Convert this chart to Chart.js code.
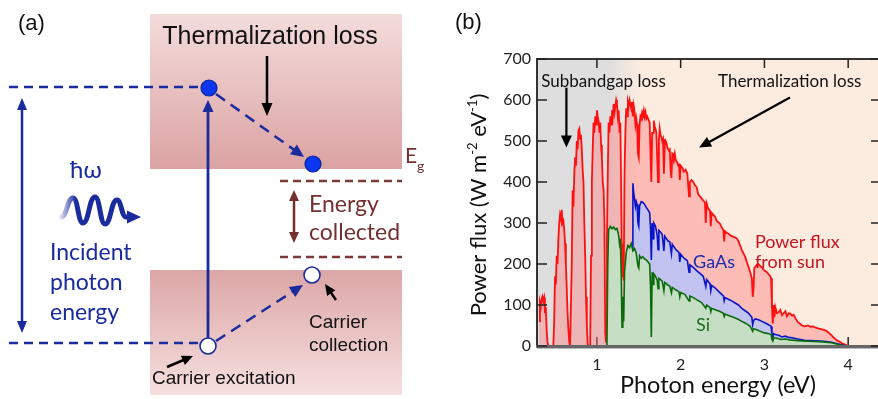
<!DOCTYPE html>
<html><head><meta charset="utf-8">
<script src="https://cdn.jsdelivr.net/npm/chart.js@4.4.0/dist/chart.umd.min.js"></script>
<style>
html,body{margin:0;padding:0;background:#fff;overflow:hidden;width:878px;height:399px;}
#a{position:absolute;left:0;top:0;}
#b{position:absolute;left:440px;top:0;}
</style></head><body>
<canvas id="a" width="440" height="399"></canvas>
<canvas id="b" width="442" height="399"></canvas>
<script>
// ---------------- Panel (b) data: power flux (W m^-2 eV^-1) vs photon energy (eV) ----------------
const energy = [
 0.31,0.32,0.33,0.34,0.35,0.36,0.37,0.38,0.39,0.40,
 0.41,0.42,0.45,0.48,0.49,0.50,0.51,0.52,0.53,0.54,
 0.55,0.56,0.57,0.58,0.59,0.60,0.61,0.62,0.63,0.64,
 0.65,0.66,0.67,0.68,0.69,0.70,0.71,0.72,0.73,0.74,
 0.75,0.76,0.77,0.78,0.79,0.80,0.81,0.82,0.83,0.84,
 0.85,0.86,0.87,0.88,0.89,0.90,0.92,0.93,0.94,0.95,
 0.96,0.97,0.98,0.99,1.00,1.01,1.02,1.03,1.04,1.05,
 1.06,1.07,1.08,1.09,1.10,1.11,1.12,1.13,1.14,1.15,
 1.16,1.17,1.18,1.19,1.20,1.21,1.22,1.23,1.24,1.25,
 1.26,1.27,1.28,1.29,1.30,1.31,1.32,1.33,1.34,1.35,
 1.36,1.37,1.38,1.39,1.40,1.41,1.42,1.43,1.44,1.45,
 1.46,1.47,1.48,1.49,1.50,1.51,1.52,1.53,1.54,1.55,
 1.56,1.57,1.58,1.59,1.60,1.61,1.62,1.63,1.64,1.65,
 1.66,1.67,1.68,1.69,1.70,1.71,1.72,1.73,1.74,1.75,
 1.76,1.77,1.78,1.79,1.80,1.81,1.82,1.83,1.84,1.85,
 1.86,1.87,1.88,1.89,1.90,1.91,1.92,1.93,1.94,1.95,
 1.96,1.97,1.98,1.99,2.00,2.02,2.04,2.06,2.08,2.10,
 2.11,2.13,2.15,2.17,2.19,2.21,2.23,2.25,2.27,2.29,
 2.30,2.31,2.33,2.35,2.36,2.37,2.39,2.41,2.43,2.45,
 2.47,2.49,2.51,2.52,2.53,2.55,2.57,2.59,2.61,2.63,
 2.65,2.67,2.69,2.71,2.73,2.75,2.77,2.79,2.81,2.83,
 2.85,2.86,2.87,2.88,2.89,2.91,2.93,2.95,2.97,2.99,
 3.01,3.03,3.05,3.07,3.08,3.09,3.10,3.11,3.12,3.13,
 3.15,3.17,3.19,3.21,3.23,3.25,3.27,3.29,3.31,3.33,
 3.35,3.37,3.40,3.42,3.45,3.48,3.52,3.55,3.58,3.62,
 3.66,3.70,3.74,3.78,3.81,3.84,3.87,3.90,3.93,3.96,
 3.99,4.02,4.38
];
const sunFlux = [
 60,105,95,115,121,110,118,80,95,40,
 10,0,0,0,60,170,150,220,200,260,
 300,320,310,332,300,305,285,250,200,140,
 80,40,10,0,0,200,380,340,420,460,
 440,500,480,525,530,505,515,480,430,400,
 300,220,120,50,5,0,0,220,400,480,
 545,520,560,540,575,560,550,520,545,490,
 460,400,380,300,30,10,250,420,545,520,
 560,540,575,560,590,570,585,600,590,560,
 575,520,545,380,170,250,160,420,520,580,
 560,595,585,600,590,580,595,560,585,570,
 540,555,540,470,460,540,560,555,570,565,
 575,560,570,555,560,560,550,545,470,400,
 520,520,550,535,530,520,460,400,500,530,
 515,510,500,505,420,490,500,495,485,480,
 478,480,430,410,470,468,460,470,455,450,
 448,440,445,405,440,435,425,430,420,365,
 400,405,400,392,388,370,365,360,355,350,
 300,348,335,330,292,325,320,316,305,302,
 298,290,283,255,280,276,274,270,268,266,
 265,262,256,245,234,226,218,205,193,180,
 165,120,140,190,193,198,200,195,192,186,
 183,180,175,170,165,95,55,100,70,95,
 80,82,88,75,80,85,72,80,79,74,
 76,68,58,55,50,48,50,47,48,44,
 42,40,37,30,24,18,13,10,6,4,
 1,0,0
];
const gaasEnergy = [
 1.42,1.43,1.44,1.45,1.46,1.47,1.48,1.49,1.50,1.51,
 1.53,1.55,1.57,1.59,1.61,1.63,1.64,1.65,1.66,1.67,
 1.68,1.70,1.72,1.73,1.74,1.76,1.78,1.80,1.81,1.83,
 1.85,1.87,1.89,1.90,1.92,1.94,1.96,1.98,1.99,2.00,
 2.04,2.08,2.10,2.11,2.15,2.19,2.23,2.27,2.30,2.31,
 2.35,2.36,2.37,2.41,2.45,2.49,2.51,2.52,2.53,2.57,
 2.61,2.65,2.69,2.73,2.77,2.81,2.85,2.86,2.87,2.89,
 2.93,2.97,3.01,3.05,3.08,3.09,3.10,3.11,3.13,3.17,
 3.21,3.25,3.29,3.33,3.40,3.48,3.56,3.66,3.74,3.80,
 3.86,3.92,3.96,4.00
];
const gaasFlux = [
 0,397,372,358,340,352,345,300,292,342,
 352,350,345,338,332,325,290,210,300,262,
 300,292,270,235,282,278,272,232,268,262,
 256,254,225,248,242,236,232,228,205,224,
 214,208,180,198,192,184,177,170,145,162,
 152,135,148,142,134,126,122,110,118,114,
 110,105,100,92,86,80,70,52,62,66,
 64,60,56,52,48,30,18,30,28,26,
 22,24,21,20,17,14,13,12,11,9,
 6,3,1,0
];
const siEnergy = [
 1.12,1.13,1.14,1.16,1.18,1.20,1.22,1.24,1.26,1.27,
 1.28,1.29,1.30,1.31,1.32,1.33,1.35,1.37,1.39,1.41,
 1.43,1.45,1.47,1.49,1.50,1.51,1.53,1.55,1.57,1.59,
 1.61,1.63,1.64,1.65,1.66,1.67,1.68,1.70,1.72,1.73,
 1.74,1.76,1.78,1.80,1.81,1.83,1.85,1.87,1.89,1.90,
 1.92,1.94,1.96,1.98,1.99,2.00,2.05,2.10,2.11,2.15,
 2.20,2.25,2.30,2.31,2.35,2.36,2.37,2.42,2.47,2.51,
 2.52,2.53,2.58,2.63,2.68,2.73,2.78,2.83,2.86,2.87,
 2.90,2.95,3.00,3.05,3.08,3.09,3.10,3.11,3.15,3.20,
 3.25,3.30,3.40,3.50,3.60,3.70,3.80,3.86,3.92,3.96
];
const siFlux = [
 0,200,283,292,286,290,284,287,270,250,
 262,180,46,120,60,180,228,245,240,250,
 232,238,226,195,190,220,214,218,212,210,
 205,200,150,22,180,150,176,170,160,140,
 165,162,158,135,155,152,148,146,130,143,
 140,137,135,132,120,130,126,110,122,118,
 112,106,92,100,94,84,92,88,84,80,
 72,78,74,70,66,60,55,48,36,42,
 40,36,32,30,28,16,12,20,19,16,
 17,15,13,12,11,10,8,5,2,0
];
const yTickValues = [0,100,200,300,400,500,600,700];
const xTickValues = [1,2,3,4];

// ---------------- Panel (a) diagram data (x: position units, y: energy units) ----------------
const electronPos = [{x:20.9,y:3.11},{x:31.3,y:2.35}];
const holePos = [{x:20.8,y:0.53},{x:31.2,y:1.24}];
const photonLevelY = [3.12, 0.56];
const photonLevelX = [0.9, 20.0];
const collectedLevelY = [2.18, 1.42];
const collectedLevelX = [28.0, 40.2];

const SANS = '"Liberation Sans", Arial, sans-serif';
const HUM = 'Lato, "Open Sans", sans-serif';

function arrowHead(ctx, x1, y1, x2, y2, len, half, color){
  const a = Math.atan2(y2-y1, x2-x1);
  ctx.save(); ctx.fillStyle = color; ctx.setLineDash([]);
  ctx.beginPath();
  ctx.moveTo(x2, y2);
  ctx.lineTo(x2 - len*Math.cos(a) + half*Math.sin(a), y2 - len*Math.sin(a) - half*Math.cos(a));
  ctx.lineTo(x2 - len*Math.cos(a) - half*Math.sin(a), y2 - len*Math.sin(a) + half*Math.cos(a));
  ctx.closePath(); ctx.fill(); ctx.restore();
}
function arrow(ctx, x1, y1, x2, y2, o){
  const len = o.len || 11, half = o.half || 5;
  const a = Math.atan2(y2-y1, x2-x1);
  let sx = x1, sy = y1;
  if (o.both){ sx = x1 + (len-2)*Math.cos(a); sy = y1 + (len-2)*Math.sin(a); }
  const ex = x2 - (len-2)*Math.cos(a), ey = y2 - (len-2)*Math.sin(a);
  ctx.save();
  ctx.strokeStyle = o.color; ctx.lineWidth = o.width || 2;
  ctx.setLineDash(o.dash || []);
  ctx.beginPath(); ctx.moveTo(sx, sy); ctx.lineTo(ex, ey); ctx.stroke();
  ctx.restore();
  arrowHead(ctx, x1, y1, x2, y2, len, half, o.color);
  if (o.both) arrowHead(ctx, x2, y2, x1, y1, len, half, o.color);
}
function text(ctx, s, x, y, font, color, align, base){
  ctx.save(); ctx.font = font; ctx.fillStyle = color;
  ctx.textAlign = align || 'left'; ctx.textBaseline = base || 'middle';
  ctx.fillText(s, x, y); ctx.restore();
}

// ---------------- Panel (a) ----------------
const diagramPlugin = {
  id: 'diagram',
  beforeDatasetsDraw(chart){
    const ctx = chart.ctx, X = v => chart.scales.x.getPixelForValue(v), Y = v => chart.scales.y.getPixelForValue(v);
    const bands = [
      {x0:15.0, x1:40.2, yTop:3.85, yBot:2.30, cTop:'#f4dcdc', cBot:'#dba2a2'},
      {x0:15.0, x1:40.2, yTop:1.29, yBot:0.04, cTop:'#dca6a6', cBot:'#f6dfdf'}
    ];
    bands.forEach(b => {
      const g = ctx.createLinearGradient(0, Y(b.yTop), 0, Y(b.yBot));
      g.addColorStop(0, b.cTop); g.addColorStop(1, b.cBot);
      ctx.fillStyle = g;
      ctx.fillRect(X(b.x0), Y(b.yTop), X(b.x1)-X(b.x0), Y(b.yBot)-Y(b.yTop));
    });
    const blue = '#1a2b9e', brown = '#74302f';
    arrow(ctx, X(2.2), Y(3.01), X(2.2), Y(0.66), {color:blue, width:2.5, both:true, len:12, half:5});
    arrow(ctx, X(20.8), Y(0.61), X(20.8), Y(2.99), {color:blue, width:2.8, len:12, half:5.5});
    arrow(ctx, X(21.6), Y(3.05), X(30.4), Y(2.42), {color:blue, width:2.5, dash:[11,7], len:13, half:6});
    arrow(ctx, X(21.6), Y(0.58), X(30.3), Y(1.14), {color:blue, width:2.5, dash:[11,7], len:13, half:6});
    arrow(ctx, X(29.4), Y(2.09), X(29.4), Y(1.56), {color:brown, width:2.5, both:true, len:11, half:5});
    arrow(ctx, X(26.7), Y(3.43), X(26.7), Y(2.83), {color:'#000', width:2.5, len:13, half:5.5});
    arrow(ctx, X(33.6), Y(0.99), X(32.5), Y(1.15), {color:'#000', width:2.5, len:11, half:5});
    arrow(ctx, X(16.7), Y(0.32), X(19.3), Y(0.43), {color:'#000', width:2.5, len:11, half:5});
    // photon wave
    const wave = [[6.1,1.82],[7.3,2.01],[8.3,1.76],[9.5,2.02],[10.5,1.75],[11.7,1.99],[12.6,1.82]];
    const g = ctx.createLinearGradient(X(5.8),0,X(7.6),0);
    g.addColorStop(0,'rgba(26,43,158,0)'); g.addColorStop(1,'rgba(26,43,158,1)');
    ctx.save(); ctx.strokeStyle = g; ctx.lineWidth = 5; ctx.lineCap='round';
    ctx.beginPath(); ctx.moveTo(X(wave[0][0]), Y(wave[0][1]));
    for (let i=1;i<wave.length;i++){
      const x0=X(wave[i-1][0]), y0=Y(wave[i-1][1]), x1=X(wave[i][0]), y1=Y(wave[i][1]), dx=x1-x0;
      ctx.bezierCurveTo(x0+dx*0.5, y0, x1-dx*0.5, y1, x1, y1);
    }
    ctx.lineTo(X(13.0), Y(1.82));
    ctx.stroke(); ctx.restore();
    arrowHead(ctx, X(12.6), Y(1.82), X(14.1), Y(1.82), 14, 6.5, blue);
    // texts
    text(ctx, '(a)', X(1.8), Y(3.75), '22px '+SANS, '#111');
    text(ctx, 'Thermalization loss', X(27.0), Y(3.62), '25px '+SANS, '#111', 'center');
    text(ctx, 'E', X(40.5), Y(2.43), '21px '+HUM, brown);
    text(ctx, 'g', X(41.7), Y(2.33), '14px '+HUM, brown);
    text(ctx, 'Energy', X(30.9), Y(1.94), '23px '+HUM, brown);
    text(ctx, 'collected', X(30.9), Y(1.66), '23px '+HUM, brown);
    text(ctx, 'ħω', X(7.0), Y(2.29), '24px '+HUM, blue);
    text(ctx, 'Incident', X(5.0), Y(1.46), '23px '+HUM, blue);
    text(ctx, 'photon', X(5.0), Y(1.16), '23px '+HUM, blue);
    text(ctx, 'energy', X(5.0), Y(0.86), '23px '+HUM, blue);
    text(ctx, 'Carrier', X(30.9), Y(0.76), '19px '+SANS, '#111');
    text(ctx, 'collection', X(30.9), Y(0.53), '19px '+SANS, '#111');
    text(ctx, 'Carrier excitation', X(15.2), Y(0.20), '19px '+SANS, '#111');
  }
};

new Chart(document.getElementById('a'), {
  type: 'scatter',
  data: { datasets: [
    { data: electronPos, pointRadius: 8, backgroundColor: '#0a36f0', borderColor: '#0c2590', borderWidth: 1.2 },
    { data: holePos, pointRadius: 8, backgroundColor: '#ffffff', borderColor: '#1a2b9e', borderWidth: 1.6 },
    { data: photonLevelX.map(x => ({x, y: photonLevelY[0]})), showLine: true, pointRadius: 0, borderColor: '#1a2b9e', borderWidth: 2.5, borderDash: [9,6] },
    { data: photonLevelX.map(x => ({x, y: photonLevelY[1]})), showLine: true, pointRadius: 0, borderColor: '#1a2b9e', borderWidth: 2.5, borderDash: [9,6] },
    { data: collectedLevelX.map(x => ({x, y: collectedLevelY[0]})), showLine: true, pointRadius: 0, borderColor: '#7a3a38', borderWidth: 2.5, borderDash: [8,5] },
    { data: collectedLevelX.map(x => ({x, y: collectedLevelY[1]})), showLine: true, pointRadius: 0, borderColor: '#7a3a38', borderWidth: 2.5, borderDash: [8,5] }
  ]},
  options: {
    responsive: false, animation: false, layout: { padding: 0, autoPadding: false },
    plugins: { legend: { display: false }, tooltip: { enabled: false } },
    scales: {
      x: { type: 'linear', min: 0, max: 44, display: false },
      y: { type: 'linear', min: 0, max: 3.99, display: false }
    }
  },
  plugins: [diagramPlugin]
});

// ---------------- Panel (b) ----------------
const bgPlugin = {
  id: 'bgb',
  beforeDatasetsDraw(chart){
    const {ctx, chartArea: a, scales: {x, y}} = chart;
    const f = v => (x.getPixelForValue(v) - a.left) / (a.right - a.left);
    const g = ctx.createLinearGradient(a.left, 0, a.right, 0);
    g.addColorStop(0, '#dedede'); g.addColorStop(f(1.15), '#dedede');
    g.addColorStop(f(1.5), '#fcebdf'); g.addColorStop(1, '#fcebdf');
    ctx.save(); ctx.fillStyle = g; ctx.fillRect(a.left, a.top, a.right - a.left, a.bottom - a.top);
    ctx.strokeStyle = '#222'; ctx.lineWidth = 1.5;
    xTickValues.forEach(v => { const px = x.getPixelForValue(v); ctx.beginPath(); ctx.moveTo(px, a.bottom); ctx.lineTo(px, a.bottom - 9); ctx.stroke(); });
    ctx.restore();
  },
  afterDatasetsDraw(chart){
    const {ctx, chartArea: a, scales: {x, y}} = chart;
    ctx.save();
    ctx.strokeStyle = '#333'; ctx.lineWidth = 2;
    ctx.beginPath(); ctx.moveTo(a.left, a.bottom); ctx.lineTo(a.left, a.top); ctx.lineTo(a.right, a.top); ctx.lineTo(a.right, a.bottom); ctx.stroke();
    ctx.strokeStyle = '#666'; ctx.lineWidth = 3;
    ctx.beginPath(); ctx.moveTo(a.left - 1, a.bottom + 0.5); ctx.lineTo(a.right, a.bottom + 0.5); ctx.stroke();
    ctx.strokeStyle = '#bbb'; ctx.lineWidth = 1;
    ctx.beginPath(); ctx.moveTo(a.left, a.bottom + 2.5); ctx.lineTo(a.right, a.bottom + 2.5); ctx.stroke();
    ctx.strokeStyle = '#222'; ctx.lineWidth = 1.5;
    yTickValues.forEach(v => {
      const py = y.getPixelForValue(v);
      ctx.beginPath(); ctx.moveTo(a.left, py); ctx.lineTo(a.left + 10, py); ctx.stroke();
      ctx.beginPath(); ctx.moveTo(a.right, py); ctx.lineTo(a.right - 9, py); ctx.stroke();
    });
    xTickValues.forEach(v => {
      const px = x.getPixelForValue(v);
      ctx.beginPath(); ctx.moveTo(px, a.top); ctx.lineTo(px, a.top + 9); ctx.stroke();
    });
    ctx.restore();
    const X = v => x.getPixelForValue(v), Y = v => y.getPixelForValue(v);
    text(ctx, 'Subbandgap loss', X(0.336), Y(645), '17px '+HUM, '#111');
    text(ctx, 'Thermalization loss', X(2.446), Y(645), '17px '+HUM, '#111');
    arrow(ctx, X(0.636), Y(630), X(0.636), Y(484), {color:'#000', width:2.2, len:12, half:5.5});
    arrow(ctx, X(3.305), Y(606), X(2.22), Y(484), {color:'#000', width:2.2, len:12, half:5.5});
    text(ctx, 'GaAs', X(2.148), Y(205), '18px '+HUM, '#1a2bb0');
    text(ctx, 'Si', X(2.184), Y(51), '18px '+HUM, '#1d6e1d');
    text(ctx, 'Power flux', X(2.887), Y(254), '18px '+HUM, '#c8141e');
    text(ctx, 'from sun', X(2.887), Y(205), '18px '+HUM, '#c8141e');
    text(ctx, '(b)', 15, 23, '22px '+SANS, '#111');
    text(ctx, 'Photon energy (eV)', 278, 385, '23.5px '+HUM, '#111', 'center');
    const segs = [{t:'Power flux (W m', s:22, dy:0},{t:'-2', s:13, dy:-9},{t:' eV', s:22, dy:0},{t:'-1', s:13, dy:-9},{t:')', s:22, dy:0}];
    ctx.save();
    let w = 0; segs.forEach(sg => { ctx.font = sg.s+'px '+HUM; sg.w = ctx.measureText(sg.t).width; w += sg.w; });
    ctx.translate(38, 205); ctx.rotate(-Math.PI/2);
    ctx.fillStyle = '#111'; ctx.textBaseline = 'alphabetic'; ctx.textAlign = 'left';
    let cx = -w/2;
    segs.forEach(sg => { ctx.font = sg.s+'px '+HUM; ctx.fillText(sg.t, cx, 8 + sg.dy); cx += sg.w; });
    ctx.restore();
  }
};

function series(xs, ys){ return xs.map((e, i) => ({x: e, y: ys[i]})); }

new Chart(document.getElementById('b'), {
  type: 'line',
  data: { datasets: [
    { label: 'Si', data: series(siEnergy, siFlux), borderColor: '#0b6b0b', backgroundColor: '#c5dec4', fill: 'origin', borderWidth: 1.6, pointRadius: 0, tension: 0 },
    { label: 'GaAs', data: series(gaasEnergy, gaasFlux), borderColor: '#0a14c8', backgroundColor: '#c3c3f1', fill: 'origin', borderWidth: 1.6, pointRadius: 0, tension: 0 },
    { label: 'Sun', data: series(energy, sunFlux), borderColor: '#ff1010', backgroundColor: 'rgba(255,130,130,0.45)', fill: 'origin', borderWidth: 1.8, pointRadius: 0, tension: 0 }
  ]},
  options: {
    responsive: false, animation: false,
    layout: { padding: { top: 59, right: 2, left: 0, bottom: 0 }, autoPadding: false },
    plugins: { legend: { display: false }, tooltip: { enabled: false } },
    scales: {
      x: {
        type: 'linear', min: 0.285, max: 4.38,
        afterFit: s => { s.height = 53; },
        afterBuildTicks: s => { s.ticks = xTickValues.map(v => ({value: v})); },
        grid: { drawOnChartArea: false, drawTicks: false },
        border: { display: false },
        ticks: { font: { family: 'Lato', size: 16 }, color: '#222', padding: 9, maxRotation: 0 }
      },
      y: {
        type: 'linear', min: 0, max: 700,
        afterFit: s => { s.width = 97; },
        afterBuildTicks: s => { s.ticks = yTickValues.map(v => ({value: v})); },
        grid: { drawOnChartArea: false, drawTicks: false },
        border: { display: false },
        ticks: { font: { family: 'Lato', size: 16 }, color: '#222', padding: 6 }
      }
    }
  },
  plugins: [bgPlugin]
});
</script></body></html>
